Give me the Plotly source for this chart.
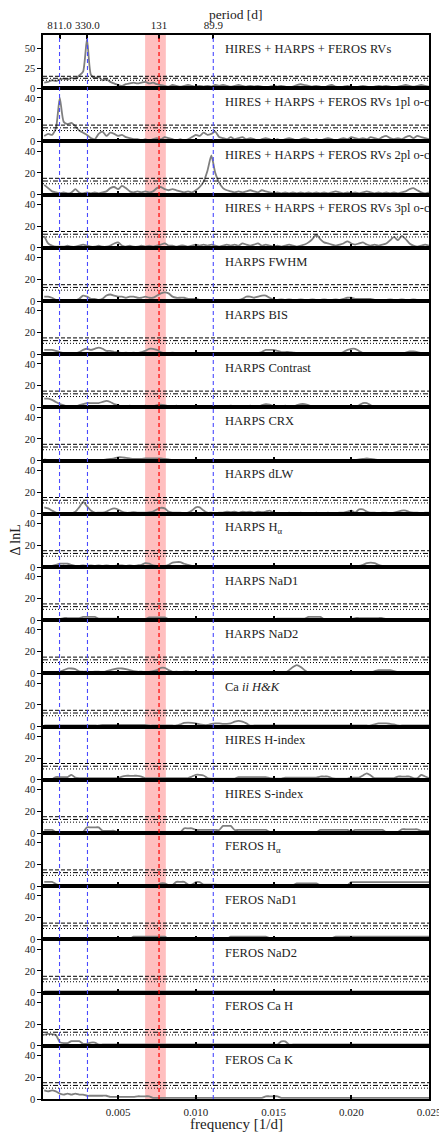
"""
MLP periodograms of RVs, residuals and activity indicators, one panel per
data set, stacked on a shared frequency axis.
"""

import plotly.graph_objects as go
from plotly.subplots import make_subplots

# frequency grid [1/d] the periodograms are sampled on
FREQ = [k / 4000 for k in range(1, 101)]

RV_ALL = [
    7, 8, 10, 9, 11, 12, 11, 13, 12, 16,
    21, 62, 17, 13, 14, 10, 11, 8, 6, 4,
    3, 5, 6, 7, 6, 7, 8, 6, 7, 5,
    4, 3, 2, 4, 3, 2, 3, 4, 3, 2,
    3, 2, 3, 2, 4, 3, 4, 3, 2, 3,
    4, 3, 2, 3, 2, 3, 2, 1, 2, 3,
    2, 3, 2, 1, 2, 4, 5, 4, 3, 2,
    3, 2, 1, 3, 4, 2, 1, 2, 3, 2,
    1, 2, 3, 2, 1, 2, 3, 2, 3, 2,
    1, 2, 3, 4, 3, 2, 3, 4, 3, 2]
RV_1PL = [
    5, 7, 6, 12, 40, 18, 16, 17, 14, 10,
    8, 6, 3, 2, 7, 9, 5, 8, 7, 5,
    6, 4, 3, 2, 2, 1, 2, 1, 2, 3,
    2, 4, 3, 2, 1, 2, 1, 2, 4, 6,
    5, 8, 6, 7, 9, 4, 3, 2, 4, 2,
    3, 4, 2, 3, 2, 1, 2, 3, 2, 1,
    2, 1, 2, 3, 2, 1, 2, 3, 2, 1,
    2, 1, 2, 3, 2, 1, 2, 3, 2, 4,
    3, 2, 3, 2, 4, 3, 2, 4, 5, 3,
    2, 3, 2, 4, 5, 3, 5, 4, 3, 2]
RV_2PL = [
    9, 6, 3, 2, 1, 2, 1, 2, 5, 2,
    1, 2, 1, 2, 1, 2, 3, 6, 7, 5,
    8, 6, 3, 2, 3, 2, 3, 2, 3, 6,
    7, 5, 4, 5, 4, 3, 2, 3, 2, 4,
    7, 12, 22, 36, 20, 11, 6, 4, 3, 2,
    3, 2, 3, 4, 3, 2, 4, 3, 2, 1,
    2, 1, 2, 1, 2, 1, 2, 1, 2, 1,
    2, 1, 2, 1, 2, 3, 2, 1, 2, 1,
    2, 1, 2, 3, 2, 1, 2, 1, 2, 1,
    2, 1, 2, 3, 5, 6, 4, 2, 1, 2]
RV_3PL = [
    11, 4, 2, 1, 1, 1, 2, 1, 1, 2,
    3, 2, 1, 1, 2, 1, 1, 2, 4, 5,
    2, 1, 2, 1, 1, 2, 1, 2, 1, 2,
    3, 4, 2, 2, 1, 2, 2, 1, 2, 3,
    2, 3, 2, 3, 2, 1, 2, 3, 2, 3,
    2, 4, 3, 2, 3, 4, 2, 3, 2, 1,
    2, 1, 2, 3, 2, 1, 2, 3, 5, 8,
    12, 8, 5, 4, 3, 2, 3, 4, 6, 4,
    3, 4, 5, 3, 2, 3, 2, 3, 4, 7,
    10, 7, 11, 8, 4, 2, 1, 2, 3, 2]
HARPS_FWHM = [
    4, 4, 3, 1, 1, 0.5, 1, 1, 0.5, 2,
    5, 4, 2, 2, 1, 2, 5, 6, 5, 4,
    4, 3, 4, 4, 3, 3, 4, 3, 3, 5,
    7, 8, 7, 4, 3, 3, 3, 2, 2, 2,
    1, 1, 1, 1, 1, 1, 1, 0.5, 1, 1,
    1, 2, 4, 4, 3, 4, 5, 5, 3, 1,
    1, 1.5, 1, 1.5, 1, 1, 1.5, 1, 1, 1.5,
    1, 1, 1.5, 1, 1, 1.5, 1, 2, 3, 3,
    2, 2, 2, 2, 2, 1, 1, 1, 1, 1.5,
    1, 1, 1.5, 1, 1, 1.5, 1, 1, 1, 1]
HARPS_BIS = [
    4, 4, 4, 3, 2, 1, 1, 1, 1, 2,
    4, 5, 4, 5, 6, 5, 3, 3, 2, 2,
    1, 1.5, 1, 1.5, 1, 2, 3, 5, 5, 4,
    2, 1, 1, 1.5, 1, 1, 0.5, 1, 0.5, 0.5,
    1, 0.5, 0.5, 1, 0.5, 0.5, 0.5, 0.5, 1, 0.5,
    0.5, 0.5, 1, 0.5, 0.5, 1, 2, 4, 4, 4,
    3, 2, 2, 2, 1.5, 1, 1, 0.5, 0.5, 0.5,
    0.5, 0.5, 0.5, 0.5, 1, 0.5, 0.5, 2, 4, 5,
    5, 3, 1, 0.5, 0.5, 0.5, 0.5, 0.5, 0.5, 0.5,
    0.5, 0.5, 1, 1.5, 2.5, 2.5, 2, 1, 0.5, 0.5]
HARPS_CONTRAST = [
    8, 8, 7, 5, 3, 2, 1, 1, 1, 2,
    3, 4, 4, 4, 4, 5, 6, 5, 3, 2,
    1, 1, 1.5, 1, 1, 1, 1.5, 1, 1, 2,
    2.5, 2, 1, 1, 1.5, 1, 1, 1, 1, 1.5,
    1, 1, 0.5, 1, 0.5, 1, 0.5, 1, 1.5, 1,
    0.5, 1, 1, 1.5, 1, 1, 2, 3, 2.5, 1,
    1, 1, 1.5, 1, 1, 2, 3, 3, 2, 1,
    1, 1, 1, 1, 1, 1, 0.5, 1, 1, 1,
    1, 2, 4, 4, 2, 1, 1, 0.5, 0.5, 1,
    0.5, 0.5, 1, 0.5, 0.5, 1, 0.5, 0.5, 1, 0.5]
HARPS_CRX = [
    1, 0.5, 0.5, 0.5, 0.5, 0.5, 0.5, 0.5, 0.5, 0.5,
    0.5, 0.5, 0.5, 0.5, 0.5, 0.5, 1, 1.5, 2, 3,
    3, 2.5, 2, 1.5, 1.5, 1.5, 2, 2, 2, 2,
    2, 1.5, 1, 0.5, 0.5, 0.5, 0.5, 0.5, 0.5, 0.5,
    0.5, 0.5, 0.5, 0.5, 0.5, 0.5, 0.5, 0.5, 0.5, 0.5,
    0.5, 0.5, 0.5, 0.5, 0.5, 0.5, 0.5, 0.5, 0.5, 0.5,
    0.5, 0.5, 0.5, 0.5, 0.5, 0.5, 0.5, 0.5, 0.5, 0.5,
    0.5, 0.5, 0.5, 0.5, 0.5, 0.5, 0.5, 0.5, 0.5, 0.5,
    0.5, 1, 1.5, 2, 1.5, 1, 0.5, 0.5, 0.5, 0.5,
    0.5, 0.5, 0.5, 0.5, 0.5, 0.5, 0.5, 0.5, 0.5, 0.5]
HARPS_DLW = [
    6, 5, 3, 1, 0.3, 0.3, 0.3, 0.5, 2, 6,
    11, 7, 3, 1, 1, 1, 2, 4, 5, 4,
    2, 1, 1, 1.5, 1, 1, 1, 1.5, 2, 4,
    5.5, 5, 2, 1, 1, 1, 0.5, 1, 3, 6,
    6, 3, 1, 1, 0.5, 1, 1, 2, 1.5, 2,
    1, 2, 1.5, 2, 1, 2, 1.5, 2, 3, 1,
    0.5, 0.5, 0.5, 1, 0.5, 0.5, 1, 0.5, 0.5, 0.5,
    1, 0.5, 0.5, 1, 0.5, 0.5, 1, 1, 2, 3,
    1, 4, 4, 2, 1, 1, 0.5, 1, 1, 0.5,
    1, 2, 3, 3, 1.5, 1, 1, 0.5, 1, 1]
HARPS_HALPHA = [
    1, 1, 1, 2, 3, 3, 3, 2, 1, 1,
    1.5, 1, 1.5, 1, 1.5, 1, 1.5, 1, 1, 1.5,
    1.5, 1, 1.5, 1, 1.5, 2, 3.5, 3, 1.5, 1,
    1, 1, 2, 4, 4.5, 4.5, 3, 2, 1, 1,
    1, 0.5, 1, 1, 0.5, 1, 1, 0.5, 1, 1,
    0.5, 1, 1, 0.5, 1, 1, 0.5, 1, 1, 0.5,
    1, 1, 0.5, 1, 1, 0.5, 1, 1, 0.5, 1,
    1, 0.5, 1, 1, 0.5, 1, 1, 0.5, 1, 1,
    1, 1, 2, 3.5, 4, 3.5, 2, 1, 1, 1,
    1, 1, 1, 1, 1, 1, 1, 1, 1, 1]
HARPS_NAD1 = [
    1, 1, 1, 1, 1, 2, 2, 2, 2, 2,
    3, 3, 3, 3, 1.5, 1.5, 1.5, 1.5, 1.5, 1.5,
    1, 1, 1, 1, 1, 1, 1, 2.5, 2.5, 2.5,
    2.5, 2.5, 1, 1, 1, 1, 1, 1, 1, 1,
    1, 1, 1, 1, 1, 1, 1, 1, 1, 1,
    1, 1, 1, 1, 1, 1, 1, 1, 1, 1,
    1.5, 1.5, 1.5, 1.5, 1.5, 1.5, 1.5, 1.5, 3, 3,
    3, 3, 1, 1, 1, 1, 1, 1, 1, 1,
    2, 2, 2, 2, 2, 2, 2, 2, 1, 1,
    1, 1, 1, 1, 1, 1, 1, 1, 1, 1]
HARPS_NAD2 = [
    1, 1, 1, 1, 1.5, 3, 4.5, 4.5, 4, 2,
    1.5, 1.5, 1, 1.5, 1.5, 1, 2, 3, 4, 4.5,
    4.5, 4, 3, 2, 1.5, 1.5, 1, 1.5, 2, 3,
    5, 5, 3, 1.5, 1.5, 1, 1.5, 1.5, 1, 0.6,
    0.6, 0.6, 0.6, 0.6, 0.6, 0.6, 0.6, 0.6, 0.6, 0.6,
    0.6, 0.6, 0.6, 0.6, 0.6, 0.6, 0.6, 0.6, 0.6, 0.6,
    0.6, 0.6, 0.6, 3, 6, 7.7, 6, 3, 1, 1,
    1, 1, 1, 1, 1, 1, 1, 1, 1, 1,
    1, 1, 1, 1, 1, 2, 3, 3, 3, 3,
    2, 1, 0.6, 0.6, 0.6, 0.6, 0.6, 0.6, 0.6, 0.6]
CA_HK = [
    1, 1, 1, 1, 1, 1, 1, 1, 1, 1,
    1, 1, 1, 1, 1, 1.5, 1.5, 1.5, 1.5, 1.5,
    1.5, 1.5, 1.5, 1.5, 1.5, 1.5, 1.5, 1, 1, 1,
    1, 1, 1, 1, 1, 2, 3.5, 3.7, 3.5, 3,
    2, 1.5, 1.5, 2.5, 3, 3, 2.5, 2.5, 3, 4.5,
    5.2, 4.5, 3, 1, 1, 1, 1, 1, 1, 1,
    1, 1, 1, 1, 1, 1, 1, 1, 1, 1,
    1, 1, 1, 1, 1, 1, 1, 1, 1, 1,
    1, 1, 1, 1, 1, 2, 3, 3, 3, 2.5,
    2, 1, 1, 1, 1, 1, 1, 1, 1, 1]
HIRES_HINDEX = [
    0.6, 0.6, 0.6, 2.5, 2.5, 2.5, 2.5, 4.6, 2, 1.5,
    1.5, 1.5, 1.5, 1.5, 1.5, 1.5, 1.5, 1.5, 1.5, 1.5,
    3, 3.7, 3.7, 3.7, 3.7, 3, 1.5, 1.5, 1.5, 1.5,
    1.5, 1.5, 1.5, 1.5, 1.5, 1.5, 1.5, 1.5, 3, 4.6,
    4.6, 4, 1.5, 1, 1, 1, 1, 1, 1, 1,
    2.5, 2.5, 2.5, 2.5, 2.5, 2.5, 2.5, 2.5, 1.5, 1,
    1, 1, 2, 2, 2, 2, 2, 2, 2, 2,
    2, 3, 3, 3, 1.5, 1, 1, 1, 1, 2,
    2, 2, 4, 6, 4, 1.5, 1.5, 1.5, 1.5, 1.5,
    1.5, 3, 3, 3, 3, 1.5, 1.5, 4.6, 3, 1.5]
HIRES_SINDEX = [
    2.8, 2.8, 2.8, 1, 1, 1, 1, 1, 1, 1,
    1, 5.2, 5.2, 5.2, 5.2, 2, 2, 2, 2, 0.6,
    0.6, 0.6, 0.6, 0.6, 0.6, 0.6, 0.6, 0.6, 0.6, 0.6,
    0.6, 0.6, 0.6, 0.6, 0.6, 0.6, 4.3, 4.3, 4.3, 2.8,
    2.8, 2.8, 2.8, 2.8, 2.8, 2.8, 6.5, 6.5, 6.5, 2.8,
    2.8, 2.8, 2.8, 2.8, 2.8, 2.8, 2.8, 2.8, 1, 0.6,
    0.6, 0.6, 0.6, 0.6, 0.6, 0.6, 0.6, 0.6, 0.6, 0.6,
    0.6, 2.8, 2.8, 2.8, 2.8, 2.8, 2.8, 2.8, 2.8, 1,
    2.8, 2.8, 2.8, 2.8, 2.8, 2.8, 2.8, 2.8, 1, 1,
    1, 1, 3.4, 3.4, 3.4, 3.4, 3.4, 2, 2, 2]
FEROS_HALPHA = [
    4, 4, 4, 2, 1, 1, 1, 1, 0.6, 0.6,
    0.6, 0.6, 0.6, 0.6, 0.6, 0.6, 0.6, 0.6, 0.6, 0.6,
    0.6, 0.6, 0.6, 0.6, 0.6, 0.6, 0.6, 0.6, 0.6, 0.6,
    2.5, 2.5, 1, 1, 4, 4, 4, 1.5, 1.5, 3.7,
    3.7, 1.5, 1.5, 1.5, 1.5, 1, 1, 1, 1, 1,
    1, 1, 1, 1, 1, 1, 1, 1, 1, 1,
    1, 1, 1, 1, 1, 2.5, 2.5, 2.5, 2.5, 2.5,
    2.5, 1, 1, 1, 1, 1, 1, 1, 1, 3.7,
    3.7, 3.7, 3.7, 3.7, 3.7, 3.7, 3.7, 3.7, 3.7, 3.7,
    3.7, 3.7, 3.7, 3.7, 3.7, 3.7, 3.7, 3.7, 3.7, 3.7]
FEROS_NAD1 = [
    0.6, 0.6, 0.6, 0.6, 0.6, 0.6, 0.6, 0.6, 0.6, 0.6,
    0.6, 0.6, 0.6, 0.6, 0.6, 0.6, 0.6, 0.6, 0.6, 0.6,
    0.6, 0.6, 0.6, 2.5, 2.5, 2.5, 2.5, 2.5, 2.5, 2.5,
    2.5, 2.5, 0.6, 0.6, 0.6, 0.6, 0.6, 0.6, 0.6, 0.6,
    0.6, 0.6, 0.6, 0.6, 0.6, 0.6, 0.6, 0.6, 2.5, 2.5,
    2.5, 2.5, 2.5, 2.5, 2.5, 2.5, 2.5, 2.5, 1.2, 1.2,
    1.2, 1.2, 1.2, 1.2, 1.2, 1.2, 1.2, 1.2, 1.2, 1.2,
    1.2, 1.2, 1.2, 1.2, 1.2, 2.5, 2.5, 2.5, 2.5, 2.5,
    2.5, 2.5, 2.5, 2.5, 2.5, 2.5, 2.5, 2.5, 2.5, 2.5,
    2.5, 2.5, 2.5, 2.5, 2.5, 2.5, 2.5, 2.5, 2.5, 2.5]
FEROS_NAD2 = [
    1, 1, 1, 1, 1, 1, 1, 1, 1, 1,
    1, 1, 1, 1, 1, 1, 1, 1, 1, 1,
    1, 1, 1, 1, 1, 1, 1, 1, 1, 1,
    1, 1, 1, 1, 1, 1, 1, 1, 1, 1,
    1, 1, 1, 1, 1, 1, 1, 1, 1, 1,
    1, 1, 1, 1, 1, 1, 1, 1, 1, 1,
    1, 1, 1, 1, 1, 1, 1, 1, 1, 1,
    1, 1, 1, 1, 1, 1, 1, 1, 1, 1,
    1, 1, 1, 1, 1, 1, 1, 1, 1, 1,
    1, 1, 1, 1, 1, 1, 1, 1, 1, 1]
FEROS_CAH = [
    10, 11, 10.6, 10, 3.4, 2.5, 2.5, 4.3, 4.3, 4.3,
    1.9, 1.9, 3, 3, 1.2, 1.2, 1.2, 1.2, 1.2, 1.2,
    1.2, 1.2, 1.2, 1.2, 1.2, 1.2, 1.2, 1.2, 1.2, 1.2,
    1.2, 1.2, 1.2, 1.2, 1.2, 1.2, 1.2, 1.2, 1.2, 1.2,
    1.2, 1.2, 1.2, 1.2, 1.2, 1.2, 1.2, 1.2, 1.2, 1.2,
    1.2, 1.2, 1.2, 1.2, 1.2, 1.2, 1.2, 1.2, 1.2, 1.2,
    1.2, 4, 4, 1.2, 1.2, 1.2, 1.2, 1.2, 1.2, 1.2,
    1.2, 1.2, 1.2, 1.2, 1.2, 1.2, 1.2, 1.2, 1.2, 1.2,
    1.2, 1.2, 1.2, 1.2, 1.2, 1.2, 1.2, 1.2, 1.2, 1.2,
    1.2, 1.2, 1.2, 1.2, 1.2, 1.2, 1.2, 1.2, 1.2, 1.2]
FEROS_CAK = [
    8, 7, 8, 7, 5, 4, 5, 4, 5, 4,
    4, 3, 3, 3, 3, 3, 3, 2, 2, 2,
    2, 2, 2, 2, 2.5, 2.5, 2.5, 2.5, 1, 1,
    1, 1, 1, 1, 1, 1, 1, 1, 1, 1,
    1, 1, 1, 1, 1, 1, 1, 1, 1, 1,
    1, 1, 1, 1, 1, 1, 1, 2.5, 2.5, 2.5,
    2.5, 1, 1, 1, 1, 1, 1, 1, 1, 1,
    1, 1, 1, 1, 1, 1, 1, 1, 1, 1,
    1, 1, 1, 1, 1, 1, 1, 1, 1, 1,
    1, 1, 1, 1, 1, 1, 1, 1, 1, 1]

PANEL_LABELS = [
    "HIRES + HARPS + FEROS RVs",
    "HIRES + HARPS + FEROS RVs 1pl o-c",
    "HIRES + HARPS + FEROS RVs 2pl o-c",
    "HIRES + HARPS + FEROS RVs 3pl o-c",
    "HARPS FWHM", "HARPS BIS", "HARPS Contrast", "HARPS CRX", "HARPS dLW",
    "HARPS H<sub>α</sub>", "HARPS NaD1", "HARPS NaD2",
    "Ca <i>ii</i> <i>H&amp;K</i>",
    "HIRES H-index", "HIRES S-index",
    "FEROS H<sub>α</sub>", "FEROS NaD1", "FEROS NaD2", "FEROS Ca H", "FEROS Ca K",
]
PANEL_VALUES = [
    RV_ALL, RV_1PL, RV_2PL, RV_3PL,
    HARPS_FWHM, HARPS_BIS, HARPS_CONTRAST, HARPS_CRX, HARPS_DLW,
    HARPS_HALPHA, HARPS_NAD1, HARPS_NAD2, CA_HK,
    HIRES_HINDEX, HIRES_SINDEX,
    FEROS_HALPHA, FEROS_NAD1, FEROS_NAD2, FEROS_CAH, FEROS_CAK,
]

THRESHOLDS = [(15.0, "4px,2px"), (12.5, "5px,2px,1px,2px"), (10.0, "1px,2px")]
SIGNAL_PERIODS = [811.0, 330.0, 89.9]      # blue dashed
PLANET_PERIOD = 131.0                      # red dashed
BAND_PERIODS = [148.4, 123.9]              # red shaded band
TOP_TICK_PERIODS = [811.0, 330.0, 131.0, 89.9]
TOP_TICK_TEXT = ["811.0", "330.0", "131", "89.9"]
X_RANGE = [0.00017, 0.025]

FONT = "Liberation Serif"
N = len(PANEL_VALUES)

fig = make_subplots(rows=N, cols=1, shared_xaxes=True, vertical_spacing=0)

for i, (label, vals) in enumerate(zip(PANEL_LABELS, PANEL_VALUES), start=1):
    fig.add_trace(go.Scatter(x=FREQ, y=vals, mode="lines", showlegend=False,
                             line=dict(color="#7f7f7f", width=1.8, shape="spline", smoothing=0.6)),
                  row=i, col=1)
    sfx = "" if i == 1 else str(i)
    for level, dash in THRESHOLDS:
        fig.add_shape(type="line", xref=f"x{sfx} domain", yref=f"y{sfx}",
                      x0=0, x1=1, y0=level, y1=level,
                      line=dict(color="black", width=1, dash=dash))
    fig.add_annotation(text=label, xref=f"x{sfx}", yref=f"y{sfx} domain",
                       x=0.01176, y=0.74, xanchor="left", yanchor="middle",
                       showarrow=False, font=dict(family=FONT, size=12.5, color="#222"))

    ymax = 67 if i == 1 else 49
    ticks = [0, 25, 50] if i == 1 else [0, 20, 40]
    fig.update_yaxes(range=[0, ymax], tickvals=ticks, ticks="outside", ticklen=4,
                     tickwidth=1.2, tickcolor="black", showline=True, linecolor="black",
                     linewidth=1.5, mirror=True, showgrid=False, zeroline=False,
                     automargin=False,
                     tickfont=dict(family=FONT, size=10.5, color="#222"), row=i, col=1)
    fig.update_xaxes(range=X_RANGE, tickvals=[0.005, 0.010, 0.015, 0.020, 0.025],
                     ticktext=["0.005", "0.010", "0.015", "0.020", "0.025"],
                     ticks="inside", ticklen=4, tickwidth=1.5, tickcolor="black",
                     showline=True, linecolor="black", linewidth=1.7, mirror=True,
                     showgrid=False, zeroline=False, showticklabels=(i == N),
                     automargin=False,
                     tickfont=dict(family=FONT, size=11, color="#222"), row=i, col=1)

fig.update_xaxes(ticklabelstandoff=2, row=N, col=1)

# period axis on top of the first panel
fig.add_trace(go.Scatter(x=FREQ, y=RV_ALL, mode="lines", line=dict(width=0),
                         opacity=0, showlegend=False, hoverinfo="skip",
                         xaxis="x21", yaxis="y"))
fig.update_layout(xaxis21=dict(
    overlaying="x", side="top", anchor="y", range=X_RANGE,
    tickvals=[1 / p for p in TOP_TICK_PERIODS], ticktext=TOP_TICK_TEXT,
    ticks="inside", ticklen=4, tickwidth=1.5, tickcolor="black",
    showgrid=False, zeroline=False, showline=False, automargin=False,
    ticklabelstandoff=3,
    tickfont=dict(family=FONT, size=11, color="#222"),
))

# axis titles placed by hand so they sit where the reference has them
fig.add_annotation(text="period [d]", xref="paper", yref="paper", x=0.5, y=1.0188,
                   showarrow=False, xanchor="center", yanchor="middle",
                   font=dict(family=FONT, size=13.5, color="#222"))
fig.add_annotation(text="frequency [1/d]", xref="paper", yref="paper", x=0.5, y=-0.0235,
                   showarrow=False, xanchor="center", yanchor="middle",
                   font=dict(family=FONT, size=15, color="#222"))
fig.add_annotation(text="Δ lnL", xref="paper", yref="paper", x=-0.0725, y=0.525,
                   textangle=-90, showarrow=False, xanchor="center", yanchor="middle",
                   font=dict(family=FONT, size=14, color="#222"))

# marked periods, spanning every panel
fig.add_shape(type="rect", xref="x", yref="paper",
              x0=1 / BAND_PERIODS[0], x1=1 / BAND_PERIODS[1], y0=0, y1=1,
              fillcolor="rgba(255,0,0,0.25)", line=dict(width=0), layer="below")
for p in SIGNAL_PERIODS:
    fig.add_shape(type="line", xref="x", yref="paper", x0=1 / p, x1=1 / p, y0=0, y1=1,
                  line=dict(color="#4a4aff", width=1.1, dash="4px,3px"))
fig.add_shape(type="line", xref="x", yref="paper", x0=1 / PLANET_PERIOD, x1=1 / PLANET_PERIOD,
              y0=0, y1=1, layer="above", line=dict(color="red", width=1.2, dash="4px,3px"))

# the page body keeps an 8 px margin, so the figure is 8 px smaller each way
fig.update_layout(
    width=439, height=1131,
    margin=dict(l=35, r=18, t=27, b=40, autoexpand=False),
    paper_bgcolor="white", plot_bgcolor="rgba(0,0,0,0)",
    showlegend=False,
)

fig.write_html("out.html")
